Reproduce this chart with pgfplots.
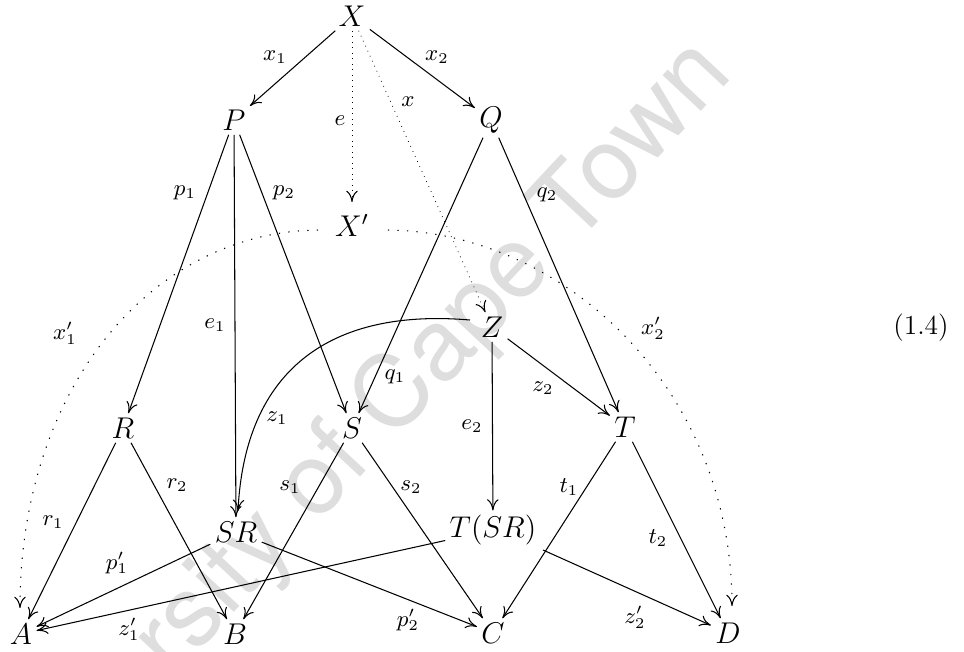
\documentclass[border=0pt]{standalone}
\usepackage{fontspec}
\newfontfamily\wmfont{TeX Gyre Heros}
\usepackage{pgfplots}
\pgfplotsset{compat=1.18}
\usetikzlibrary{arrows.meta}
\begin{document}
\begin{tikzpicture}[
  ar/.style={-{To[length=4.5pt,width=4.6pt]}, line width=0.42pt},
  dt/.style={-{To[length=4.5pt,width=4.6pt,line width=0.42pt]}, line width=0.3pt, dash pattern=on 0.3pt off 1.9pt},
  dta/.style={ar, dash pattern=on 0.5pt off 3.3pt},
  nd/.style={font=\large, inner sep=1.6pt},
  lb/.style={font=\fontsize{9}{11}\selectfont, inner sep=0pt}]
\useasboundingbox (0,0) rectangle (385.6pt,260.4pt);
\begin{axis}[width=385.6pt,height=260.4pt,scale only axis,hide axis,
  xmin=0,xmax=964,ymin=0,ymax=651,y dir=reverse,clip=false]
% watermark
\begin{scope}
\clip (axis cs:0,0) rectangle (axis cs:964,651);
\node[rotate=47, text=black!13, font=\wmfont\fontsize{40}{40}\selectfont] at (axis cs:348,452) {University of Cape Town};
\end{scope}
% objects
\node[nd] (X)   at (axis cs:352,16)  {$X$};
\node[nd] (P)   at (axis cs:234,120) {$P$};
\node[nd] (Q)   at (axis cs:491,120) {$Q$};
\node[nd] (Xp)  at (axis cs:352,225) {$X'$};
\node[nd] (Z)   at (axis cs:492,327) {$Z$};
\node[nd] (R)   at (axis cs:123,428) {$R$};
\node[nd] (S)   at (axis cs:352,428) {$S$};
\node[nd] (T)   at (axis cs:625,427) {$T$};
\node[nd] (SR)  at (axis cs:236,532) {$SR$};
\node[nd] (TSR) at (axis cs:493,530) {$T(SR)$};
\node[nd] (A)   at (axis cs:21,634)  {$A$};
\node[nd] (B)   at (axis cs:235,634) {$B$};
\node[nd] (C)   at (axis cs:493,633) {$C$};
\node[nd] (D)   at (axis cs:728,633) {$D$};
\node[font=\fontsize{11}{13}\selectfont] at (axis cs:921,328) {(1.4)};
% arrows
\draw[ar] (X) -- (P);
\draw[ar] (X) -- (Q);
\draw[dt, shorten >=3pt] (X) -- (Xp);
\draw[dt] (X) -- (Z);
\draw[ar] (P) -- (R);
\draw[ar] (P) -- (SR);
\draw[ar] (P) -- (S);
\draw[ar] (Q) -- (S);
\draw[ar] (Q) -- (T);
\draw[ar] (Z) -- (T);
\draw[ar] (Z) -- (TSR);
\draw[ar] (axis cs:470,320) .. controls (axis cs:330,308) and (axis cs:245,370) .. (axis cs:238,511);
\draw[ar] (R) -- (A);
\draw[ar] (R) -- (B);
\draw[ar] (S) -- (B);
\draw[ar] (S) -- (C);
\draw[ar] (T) -- (C);
\draw[ar] (T) -- (D);
\draw[ar] (SR) -- (A);
\draw[ar] (SR) -- (C);
\draw[ar] (TSR) -- (A);
\draw[ar] (axis cs:543,550) -- (D);
\draw[dta] (axis cs:318,230) .. controls (axis cs:150,232) and (axis cs:20,390) .. (axis cs:20,608);
\draw[dta] (axis cs:388,230) .. controls (axis cs:565,232) and (axis cs:732,390) .. (axis cs:732,606);
% labels
\node[lb] at (axis cs:275,57)  {$x_1$};
\node[lb] at (axis cs:437,57)  {$x_2$};
\node[lb] at (axis cs:340,121) {$e$};
\node[lb] at (axis cs:408,102) {$x$};
\node[lb] at (axis cs:185,193) {$p_1$};
\node[lb] at (axis cs:284,193) {$p_2$};
\node[lb] at (axis cs:547,195) {$q_2$};
\node[lb] at (axis cs:65,333)  {$x'_1$};
\node[lb] at (axis cs:653,328) {$x'_2$};
\node[lb] at (axis cs:215,325) {$e_1$};
\node[lb] at (axis cs:395,377) {$q_1$};
\node[lb] at (axis cs:543,388) {$z_2$};
\node[lb] at (axis cs:277,418) {$z_1$};
\node[lb] at (axis cs:472,426) {$e_2$};
\node[lb] at (axis cs:53,522)  {$r_1$};
\node[lb] at (axis cs:177,485) {$r_2$};
\node[lb] at (axis cs:290,487) {$s_1$};
\node[lb] at (axis cs:411,487) {$s_2$};
\node[lb] at (axis cs:569,487) {$t_1$};
\node[lb] at (axis cs:658,538) {$t_2$};
\node[lb] at (axis cs:117,563) {$p'_1$};
\node[lb] at (axis cs:129,629) {$z'_1$};
\node[lb] at (axis cs:408,620) {$p'_2$};
\node[lb] at (axis cs:635,617) {$z'_2$};
\end{axis}
\end{tikzpicture}
\end{document}
